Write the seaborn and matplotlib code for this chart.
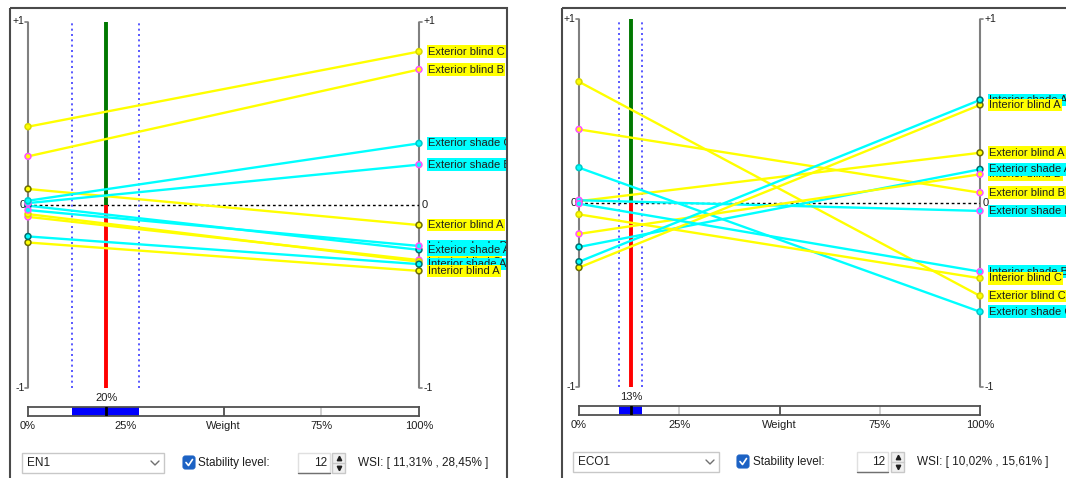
import numpy as np
import pandas as pd
import matplotlib
matplotlib.use('Agg')
import matplotlib.pyplot as plt
from matplotlib.patches import Rectangle, FancyBboxPatch
import seaborn as sns

# ---------------- data ----------------
alternatives = ['Exterior blind A', 'Exterior blind B', 'Exterior blind C',
                'Exterior shade A', 'Exterior shade B', 'Exterior shade C',
                'Interior blind A', 'Interior blind B', 'Interior blind C',
                'Interior shade A', 'Interior shade B']
en1_at_0 = [0.086, 0.264, 0.426, -0.005, 0.009, 0.022, -0.206, -0.066, -0.051, -0.173, -0.029]
en1_at_100 = [-0.111, 0.738, 0.836, -0.246, 0.219, 0.335, -0.361, -0.302, -0.311, -0.324, -0.225]
eco1_at_0 = [0.010, 0.400, 0.659, -0.239, 0.015, 0.192, -0.351, -0.168, -0.062, -0.319, -0.004]
eco1_at_100 = [0.273, 0.056, -0.505, 0.183, -0.043, -0.591, 0.533, 0.156, -0.409, 0.560, -0.373]
criteria = ['EN1', 'ECO1']
current_weights = [20, 13]
wsi_low = [11.31, 10.02]
wsi_high = [28.45, 15.61]
stability_level = [12, 12]
weight_ticks = [0, 25, 50, 75, 100]
weight_tick_labels = ['0%', '25%', 'Weight', '75%', '100%']

# ---------------- style ----------------
sns.set_style('white')
plt.rcParams['font.family'] = ['Liberation Sans', 'DejaVu Sans']

W, H = 1066, 478
YELLOW, CYAN = '#ffff00', '#00ffff'
line_col = {a: (YELLOW if 'blind' in a else CYAN) for a in alternatives}
edge_col = {}
for a in alternatives:
    letter = a[-1]
    if letter == 'A':
        edge_col[a] = '#6e6e00' if 'blind' in a else '#006e6e'
    elif letter == 'B':
        edge_col[a] = '#ff50ff'
    else:
        edge_col[a] = '#d8d800' if 'blind' in a else '#00c8c8'

geoms = [
    dict(x0=28, x1=419, yt=21.5, yb=388, bt=407, bb=416, frame=(10, 8, 507), cy=463,
         combo=(22, 164), chk=183, stab=198, spin=(298, 330), arr=(332, 345), wsi=358,
         order=['Exterior blind C', 'Exterior blind B', 'Exterior shade C', 'Exterior shade B',
                'Exterior blind A', 'Interior shade B', 'Interior blind B', 'Interior blind C',
                'Exterior shade A', 'Interior shade A', 'Interior blind A']),
    dict(x0=579, x1=980, yt=19, yb=387, bt=406, bb=415, frame=(562, 8, 1085), cy=462,
         combo=(573, 719), chk=737, stab=753, spin=(857, 888), arr=(891, 904), wsi=917,
         order=['Interior shade A', 'Interior blind B', 'Interior shade B', 'Interior blind A',
                'Exterior blind A', 'Exterior shade A', 'Exterior blind B', 'Exterior shade B',
                'Interior blind C', 'Exterior blind C', 'Exterior shade C']),
]
panel_values = [(en1_at_0, en1_at_100), (eco1_at_0, eco1_at_100)]

fig = plt.figure(figsize=(W / 100, H / 100), dpi=100)
fig.patch.set_facecolor('white')
ov = fig.add_axes([0, 0, 1, 1], zorder=0)
ov.set_xlim(0, W)
ov.set_ylim(H, 0)
ov.axis('off')

TXT = '#1e1e1e'


def fmt(v):
    return f'{v:.2f}'.replace('.', ',')


for i, g in enumerate(geoms):
    v0, v100 = panel_values[i]
    w, lo, hi = current_weights[i], wsi_low[i], wsi_high[i]
    x0, x1, yt, yb = g['x0'], g['x1'], g['yt'], g['yb']
    ux = 100 / (x1 - x0)
    uy = 2 / (yb - yt)

    # frame
    fx0, fy0, fx1 = g['frame']
    ov.add_patch(Rectangle((fx0, fy0), fx1 - fx0, H + 20 - fy0, fill=False,
                           ec='#4a4a4a', lw=1.5))
    clip_rect = Rectangle((fx0 + 1, fy0 + 1), fx1 - fx0 - 2, H, transform=ov.transData,
                          fill=False, visible=False)
    ov.add_patch(clip_rect)

    ax = fig.add_axes([x0 / W, 1 - yb / H, (x1 - x0) / W, (yb - yt) / H], zorder=2)
    ax.set_xlim(0, 100)
    ax.set_ylim(-1, 1)
    ax.axis('off')

    # vertical axes
    for xa, sgn in ((0, -1), (100, 1)):
        ax.plot([xa, xa], [-1, 1], color='#808080', lw=1.5, clip_on=False,
                solid_capstyle='butt', zorder=1)
        for ya in (1, -1):
            ax.plot([xa, xa + sgn * 3 * ux], [ya, ya], color='#808080', lw=1.2,
                    clip_on=False, zorder=1)
    ax.text(-3.5 * ux, 1, '+1', ha='right', va='center', fontsize=7.5, color=TXT)
    ax.text(-3.5 * ux, -1, '-1', ha='right', va='center', fontsize=7.5, color=TXT)
    ax.text(-2 * ux, 0, '0', ha='right', va='center', fontsize=8, color=TXT)
    ax.text(100 + 4.5 * ux, 1, '+1', ha='left', va='center', fontsize=7.5, color=TXT)
    ax.text(100 + 4.5 * ux, -1, '-1', ha='left', va='center', fontsize=7.5, color=TXT)
    ax.text(100 + 3 * ux, 0, '0', ha='left', va='center', fontsize=8, color=TXT)

    # zero line
    ax.plot([0, 100], [0, 0], color='black', lw=1, ls=(0, (2, 2)), zorder=1)

    # stability interval + current weight
    for b in (lo, hi):
        ax.plot([b, b], [-1, 1], color='#3c3cff', lw=1.2, ls=(0, (1.2, 2)), zorder=1)
    ax.plot([w, w], [0, 1], color='#007800', lw=2.8, zorder=2, solid_capstyle='butt')
    ax.plot([w, w], [-1, 0], color='#ff0000', lw=2.8, zorder=2, solid_capstyle='butt')
    ax.text(w, -1 - 10 * uy, f'{w}%', ha='center', va='center', fontsize=8, color=TXT)

    # alternative lines via seaborn
    df = pd.DataFrame({'alt': alternatives * 2,
                       'weight': [0] * len(alternatives) + [100] * len(alternatives),
                       'value': list(v0) + list(v100)})
    sns.lineplot(data=df, x='weight', y='value', hue='alt', palette=line_col,
                 estimator=None, sort=False, legend=False, ax=ax, lw=1.7, zorder=3)
    ax.set_xlim(0, 100)
    ax.set_ylim(-1, 1)
    ax.axis('off')

    # markers
    ax.scatter(df['weight'], df['value'],
               c=[line_col[a] for a in df['alt']],
               edgecolors=[edge_col[a] for a in df['alt']],
               s=18, linewidths=1.1, zorder=5, clip_on=False)

    # end labels (clipped at the panel frame)
    for k, name in enumerate(g['order']):
        idx = alternatives.index(name)
        t = ax.annotate(name, xy=(100, v100[idx]), xytext=(9, 0), textcoords='offset pixels',
                        ha='left', va='center', fontsize=8, color=TXT,
                        bbox=dict(boxstyle='square,pad=0.12', fc=line_col[name], ec='none'),
                        annotation_clip=False, zorder=6 + k)
        t.set_clip_on(True)
        t.set_clip_path(clip_rect)

    # weight bar
    bar = fig.add_axes([x0 / W, 1 - g['bb'] / H, (x1 - x0) / W, (g['bb'] - g['bt']) / H], zorder=2)
    bar.set_xlim(0, 100)
    bar.set_ylim(0, 1)
    bar.set_xticks([])
    bar.set_yticks([])
    for s in bar.spines.values():
        s.set_color('#505050')
        s.set_linewidth(1.3)
    for tk in weight_ticks[1:-1]:
        bar.axvline(tk, color='#404040' if tk == 50 else '#c8c8c8', lw=1.2, zorder=1)
    bar.axvspan(lo, hi, color='#0000ff', zorder=2, lw=0)
    bar.axvline(w, color='black', lw=2, zorder=3)
    for tk, lab in zip(weight_ticks, weight_tick_labels):
        bar.annotate(lab, xy=(tk, 0), xytext=(0, -10), textcoords='offset pixels',
                     ha='center', va='center', fontsize=8, color=TXT, annotation_clip=False)

    # controls row
    cy = g['cy']
    c0, c1 = g['combo']
    ov.add_patch(Rectangle((c0, cy - 10), c1 - c0, 20, fc='white', ec='#c8c8c8', lw=1))
    ov.text(c0 + 5, cy, criteria[i], ha='left', va='center', fontsize=8.5, color=TXT)
    ov.plot([c1 - 13, c1 - 9, c1 - 5], [cy - 2, cy + 2, cy - 2], color='#707070', lw=1)
    ck = g['chk']
    ov.add_patch(FancyBboxPatch((ck, cy - 7), 12, 13,
                                boxstyle='round,pad=0,rounding_size=2.5',
                                fc='#1c62c4', ec='#1c62c4', lw=0.8))
    ov.plot([ck + 3, ck + 5.5, ck + 9.5], [cy - 0.5, cy + 2.5, cy - 3.5], color='white', lw=1.2)
    ov.text(g['stab'], cy, 'Stability level:', ha='left', va='center', fontsize=8.5, color=TXT)
    s0, s1 = g['spin']
    ov.add_patch(Rectangle((s0, cy - 10), s1 - s0, 20, fc='white', ec='#e0e0e0', lw=1))
    ov.plot([s0, s1], [cy + 10, cy + 10], color='#707070', lw=1)
    ov.text(s1 - 3, cy, str(stability_level[i]), ha='right', va='center', fontsize=8.5, color=TXT)
    a0, a1 = g['arr']
    ov.add_patch(Rectangle((a0, cy - 10), a1 - a0, 20, fc='#f0f0f0', ec='#c8c8c8', lw=1))
    ov.plot([a0, a1], [cy, cy], color='#c8c8c8', lw=1)
    ov.plot((a0 + a1) / 2, cy - 5, marker='^', ms=3.2, color='#202020')
    ov.plot((a0 + a1) / 2, cy + 5, marker='v', ms=3.2, color='#202020')
    ov.text(g['wsi'], cy, f'WSI: [ {fmt(lo)}% , {fmt(hi)}% ]', ha='left', va='center',
            fontsize=8.5, color=TXT)

fig.savefig('out.png', dpi=100, facecolor='white')
